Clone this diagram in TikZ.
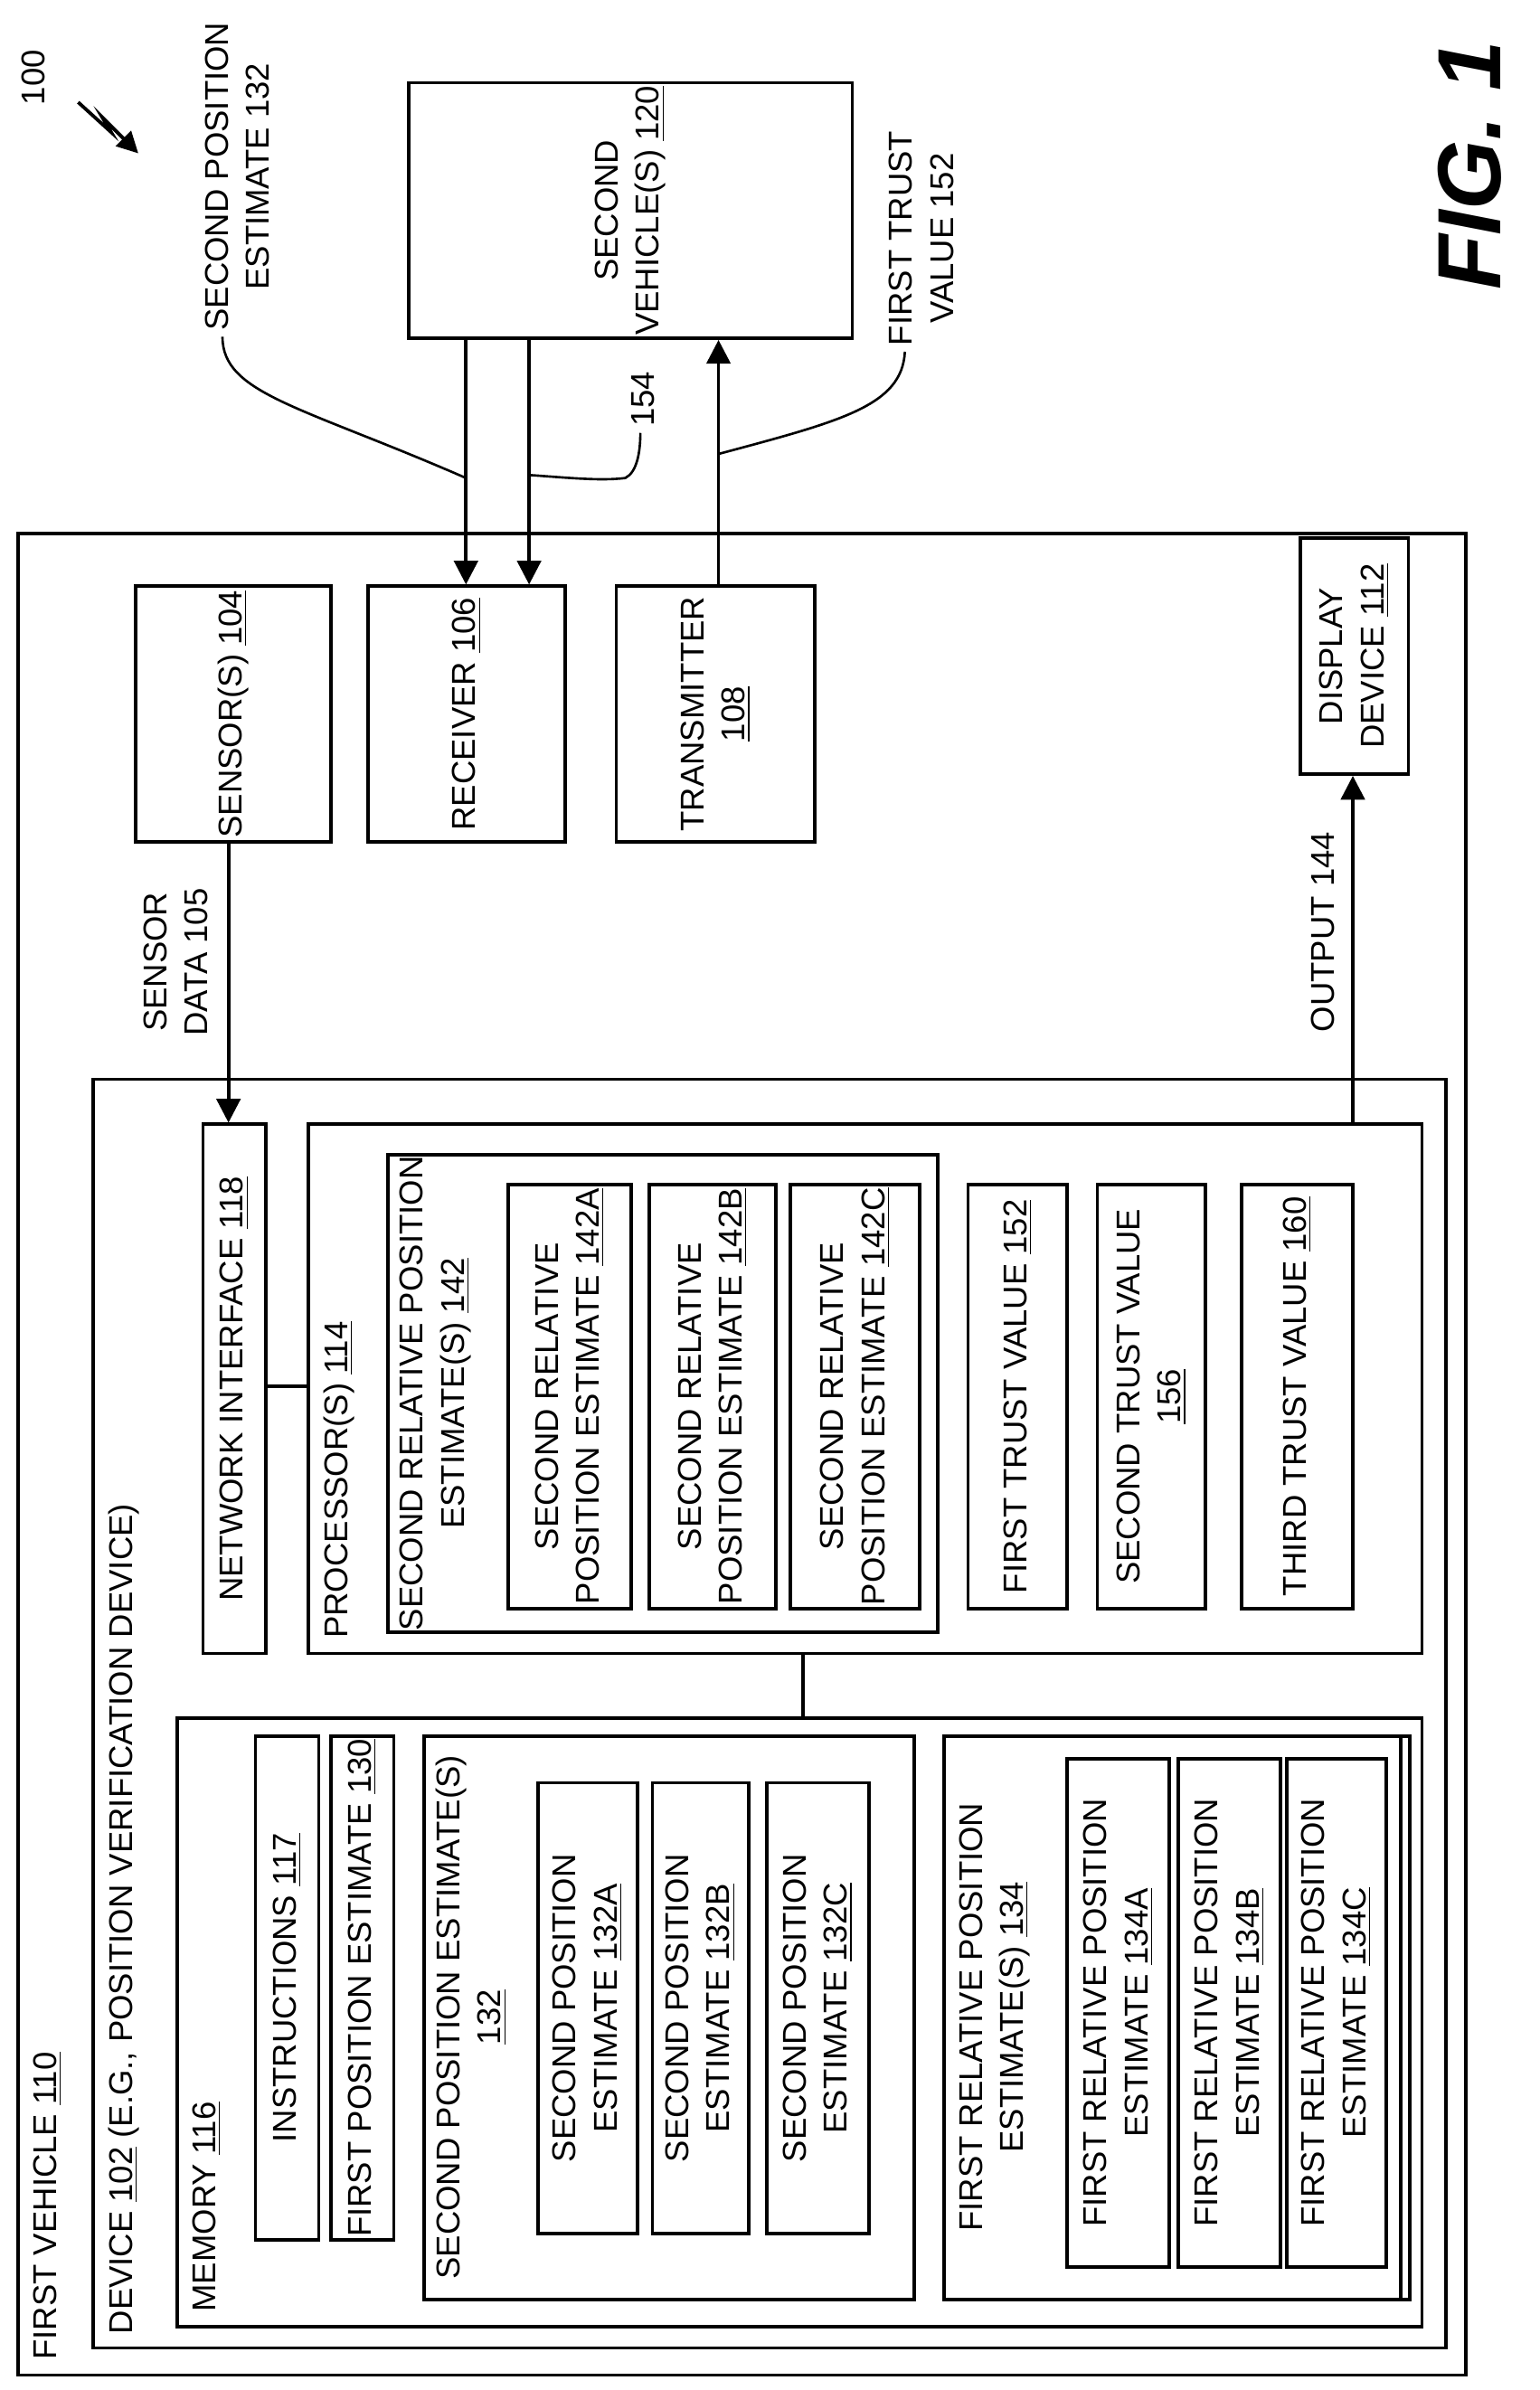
\documentclass[tikz,border=0pt]{standalone}
\usepackage{fontspec}
\setmainfont{Liberation Sans}
\usetikzlibrary{fit,arrows.meta}
\tikzset{
  box/.style={draw,line width=1.3pt,inner sep=0pt},
  txt/.style={rotate=90,align=center,font=\fontsize{12.5}{15.5}\selectfont,inner sep=1pt},
  arr/.style={line width=1.3pt,-{Triangle[length=9pt,width=9pt]}},
  lead/.style={line width=0.9pt}
}
\begin{document}
\begin{tikzpicture}[x=0.02cm,y=-0.02cm]
  \useasboundingbox (0,0) rectangle (1024,1590);

  % outer frames
  \node (veh) [box,fit={(12,355) (975,1580)}] {};
  \node[txt,anchor=north west] at (20,1572) {FIRST VEHICLE \underline{110}};
  \node (dev) [box,fit={(62,718) (962,1562)}] {};
  \node[txt,anchor=north west] at (70,1555) {DEVICE \underline{102} (E.G., POSITION VERIFICATION DEVICE)};

  % memory
  \node (mem) [box,fit={(118,1143) (946,1548)}] {};
  \node[txt,anchor=north west] at (126,1540) {MEMORY \underline{116}};
  \node (ins) [box,fit={(170,1155) (212,1490)}] {};
  \node[txt] at (ins) {INSTRUCTIONS \underline{117}};
  \node (fpe) [box,fit={(220,1155) (262,1490)}] {};
  \node[txt] at (fpe) {FIRST POSITION ESTIMATE \underline{130}};
  \node (spe) [box,fit={(282,1155) (608,1530)}] {};
  \node[txt,anchor=north] at (288,1342) {SECOND POSITION ESTIMATE(S)\\\underline{132}};
  \node (speA) [box,fit={(358,1186) (424,1486)}] {};
  \node[txt] at (speA) {SECOND POSITION\\ESTIMATE \underline{132A}};
  \node (speB) [box,fit={(434,1186) (498,1486)}] {};
  \node[txt] at (speB) {SECOND POSITION\\ESTIMATE \underline{132B}};
  \node (speC) [box,fit={(510,1186) (578,1486)}] {};
  \node[txt] at (speC) {SECOND POSITION\\ESTIMATE \underline{132C}};
  \node (fre) [box,fit={(628,1155) (938,1530)}] {};
  \node [box,fit={(628,1155) (932,1530)}] {};
  \node[txt,anchor=north] at (636,1342) {FIRST RELATIVE POSITION\\ESTIMATE(S) \underline{134}};
  \node (freA) [box,fit={(710,1170) (778,1508)}] {};
  \node[txt] at (freA) {FIRST RELATIVE POSITION\\ESTIMATE \underline{134A}};
  \node (freB) [box,fit={(784,1170) (852,1508)}] {};
  \node[txt] at (freB) {FIRST RELATIVE POSITION\\ESTIMATE \underline{134B}};
  \node (freC) [box,fit={(856,1170) (922,1508)}] {};
  \node[txt] at (freC) {FIRST RELATIVE POSITION\\ESTIMATE \underline{134C}};

  % processor
  \node (net) [box,fit={(135,748) (177,1100)}] {};
  \node[txt] at (net) {NETWORK INTERFACE \underline{118}};
  \node (proc) [box,fit={(205,748) (946,1100)}] {};
  \node[txt,anchor=north west] at (213,1092) {PROCESSOR(S) \underline{114}};
  \node (sre) [box,fit={(258,768) (624,1086)}] {};
  \node[txt,anchor=north] at (264,927) {SECOND RELATIVE POSITION\\ESTIMATE(S) \underline{142}};
  \node (sreA) [box,fit={(338,788) (420,1070)}] {};
  \node[txt] at (sreA) {SECOND RELATIVE\\POSITION ESTIMATE \underline{142A}};
  \node (sreB) [box,fit={(432,788) (516,1070)}] {};
  \node[txt] at (sreB) {SECOND RELATIVE\\POSITION ESTIMATE \underline{142B}};
  \node (sreC) [box,fit={(526,788) (612,1070)}] {};
  \node[txt] at (sreC) {SECOND RELATIVE\\POSITION ESTIMATE \underline{142C}};
  \node (tv1) [box,fit={(644,788) (710,1070)}] {};
  \node[txt] at (tv1) {FIRST TRUST VALUE \underline{152}};
  \node (tv2) [box,fit={(730,788) (802,1070)}] {};
  \node[txt] at (tv2) {SECOND TRUST VALUE\\\underline{156}};
  \node (tv3) [box,fit={(826,788) (900,1070)}] {};
  \node[txt] at (tv3) {THIRD TRUST VALUE \underline{160}};

  \draw[line width=1.3pt] (net.east |- 0,922) -- (proc.west |- 0,922);
  \draw[line width=1.3pt] (proc.south -| 534,0) -- (mem.north -| 534,0);

  % top row
  \node (sen) [box,fit={(90,390) (220,560)}] {};
  \node[txt] at (sen) {SENSOR(S) \underline{104}};
  \node (rcv) [box,fit={(245,390) (376,560)}] {};
  \node[txt] at (rcv) {RECEIVER \underline{106}};
  \node (trn) [box,fit={(410,390) (542,560)}] {};
  \node[txt] at (trn) {TRANSMITTER\\\underline{108}};
  \node (disp) [box,fit={(865,358) (937,515)}] {};
  \node[txt] at (disp) {DISPLAY\\DEVICE \underline{112}};
  \node (sv) [box,fit={(272,55) (567,225)}] {};
  \node[txt] at (sv) {SECOND\\VEHICLE(S) \underline{120}};

  % connectors
  \draw[arr] (sv.south -| 310,0) -- (rcv.north -| 310,0);
  \draw[arr] (sv.south -| 352,0) -- (rcv.north -| 352,0);
  \draw[arr] (trn.north -| 478,0) -- (sv.south -| 478,0);
  \draw[arr] (sen.south -| 152,0) -- (net.north -| 152,0);
  \draw[arr] (proc.north -| 900,0) -- (disp.south -| 900,0);

  % labels
  \node[txt] at (117,640) {SENSOR\\DATA 105};
  \node[txt] at (880,620) {OUTPUT 144};
  \node (lsp) [txt,anchor=west] at (158,222) {SECOND POSITION\\ESTIMATE 132};
  \draw[lead] (148,224) .. controls (148,262) and (200,270) .. (310,318);
  \node (l154) [txt,anchor=west] at (428,286) {154};
  \draw[lead] (352,316) .. controls (380,318) and (400,320) .. (416,318)
    .. controls (424,314) and (426,300) .. (426,288);
  \node (lft) [txt,anchor=west] at (613,232) {FIRST TRUST\\VALUE 152};
  \draw[lead] (478,302) .. controls (560,280) and (600,270) .. (602,234);

  \node[txt,anchor=west] at (22,72) {100};
  \draw[line width=1.3pt,-{Triangle[length=8pt,width=8pt]}]
    (52,68) -- (74,88) -- (68,78) -- (92,102);
  \node[rotate=90,font=\fontsize{34}{36}\selectfont\bfseries\itshape] at (978,110) {FIG. 1};
\end{tikzpicture}
\end{document}
